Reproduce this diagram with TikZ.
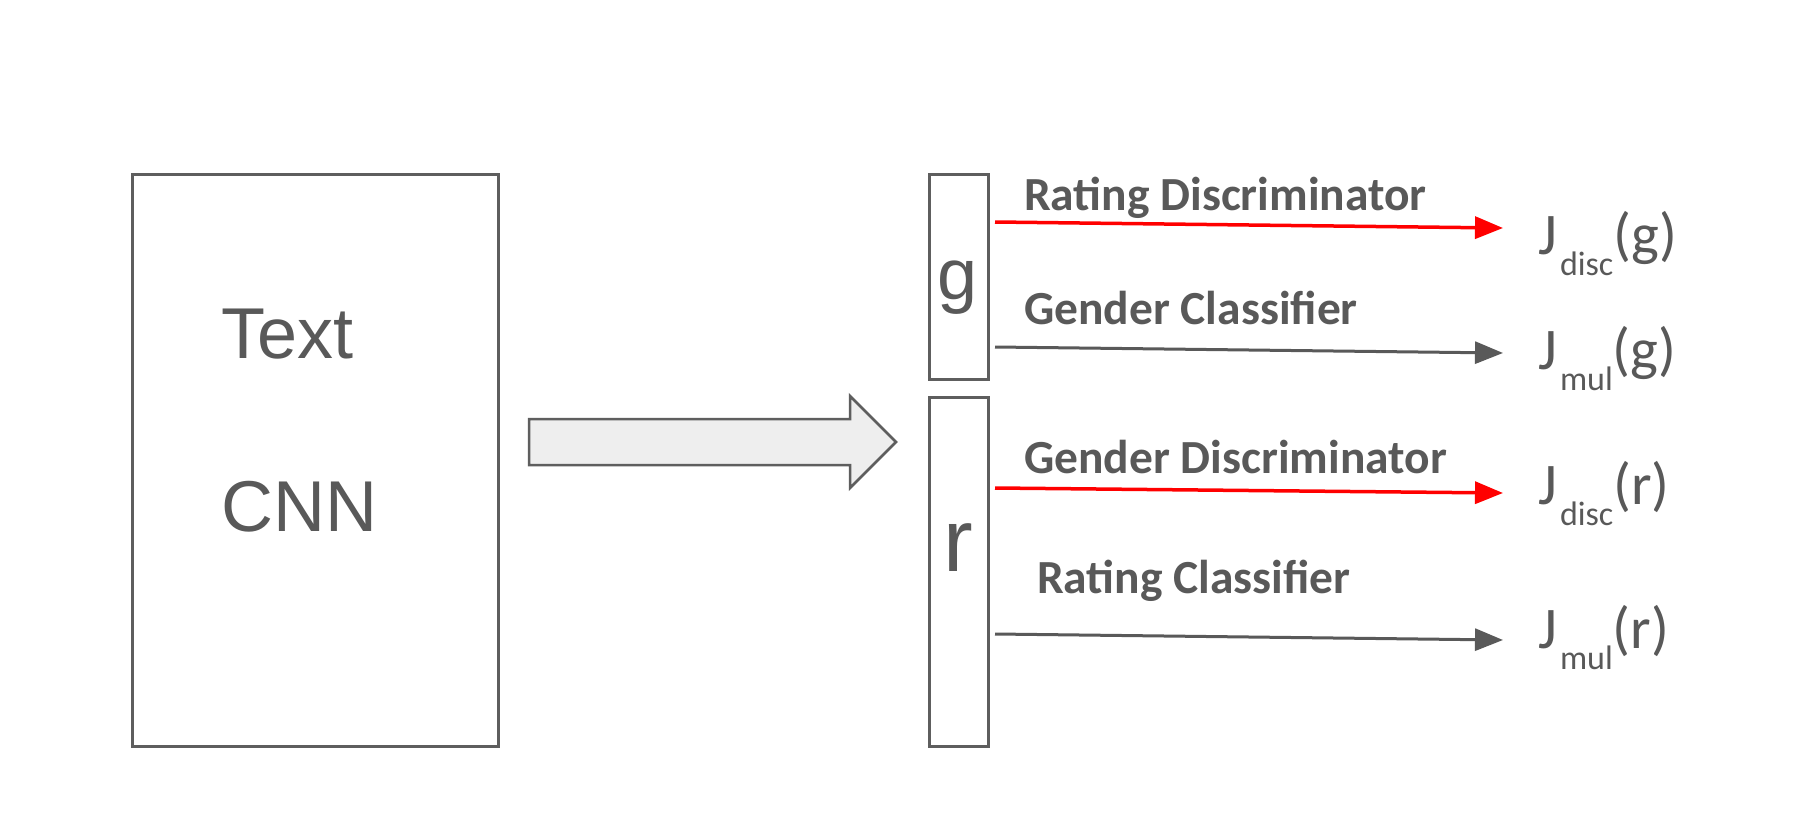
\documentclass[tikz,border=0pt]{standalone}
\usepackage{fontspec}
\setmainfont{Carlito}
\newfontfamily\arialf{Liberation Sans}
\usetikzlibrary{arrows.meta}
\definecolor{txtgray}{HTML}{595959}
\definecolor{linegray}{HTML}{5E5E5E}
\definecolor{arrfill}{HTML}{EEEEEE}
\begin{document}
\begin{tikzpicture}[x=1pt,y=-1pt,
  boxnode/.style={draw=linegray, line width=3pt, fill=none, inner sep=0pt, anchor=north west},
  bigtext/.style={text=txtgray, font=\arialf\fontsize{72}{80}\selectfont, anchor=base west, inner sep=0pt},
  lbl/.style={text=txtgray, font=\bfseries\fontsize{47.5}{52}\selectfont, anchor=base west, inner sep=0pt},
  jlbl/.style={text=txtgray, font=\fontsize{59}{64}\selectfont, anchor=base west, inner sep=0pt},
  redarr/.style={draw=red, line width=3.5pt, -{Triangle[length=28pt,width=22pt]}},
  grayarr/.style={draw=txtgray, line width=3pt, -{Triangle[length=28pt,width=22pt]}},
  bigarrow/.style={draw=linegray, line width=2.5pt, fill=arrfill, line join=miter}
]
\useasboundingbox (0,0) rectangle (1800,816);
\fill[white] (0,0) rectangle (1800,816);

% CNN box
\node[boxnode, minimum width=366pt, minimum height=572pt] (cnn) at (131,173) {};
\node[bigtext] (ttext) at (221,358) {Text};
\node[bigtext] (tcnn) at (221,531) {CNN};

% block arrow
\draw[bigarrow] (529,419) -- (850,419) -- (850,396) -- (896,442) -- (850,488) -- (850,465) -- (529,465) -- cycle;

% g and r boxes
\node[boxnode, minimum width=59pt, minimum height=205pt] (g) at (928,173) {};
\node[boxnode, minimum width=59pt, minimum height=349pt] (r) at (928,396) {};
\node[text=txtgray, font=\arialf\fontsize{72}{72}\selectfont, anchor=base, inner sep=0pt] (glbl) at (958,299) {g};
\node[text=txtgray, font=\arialf\fontsize{89}{89}\selectfont, anchor=base, inner sep=0pt] (rlbl) at (958,571) {r};

% connector endpoints
\coordinate (s1) at (995,222);
\coordinate (e1) at (1503,228);
\coordinate (s2) at (995,347);
\coordinate (e2) at (1503,353);
\coordinate (s3) at (995,488);
\coordinate (e3) at (1503,493);
\coordinate (s4) at (995,634);
\coordinate (e4) at (1503,640);

\draw[redarr] (s1) -- (e1);
\draw[grayarr] (s2) -- (e2);
\draw[redarr] (s3) -- (e3);
\draw[grayarr] (s4) -- (e4);

% labels
\node[lbl] (l1) at (1024,210) {Rating Discriminator};
\node[lbl] (l2) at (1024,324) {Gender Classifier};
\node[lbl] (l3) at (1024,473) {Gender Discriminator};
\node[lbl] (l4) at (1037,593) {Rating Classifier};

% J labels
\newcommand{\jsub}[1]{\raisebox{-21pt}{\fontsize{34}{34}\selectfont #1}}
\node[jlbl] (j1) at (1538,254) {J\hspace{3pt}\jsub{disc}(g)};
\node[jlbl] (j2) at (1538,369) {J\hspace{3pt}\jsub{mul}(g)};
\node[jlbl] (j3) at (1538,504) {J\hspace{3pt}\jsub{disc}(r)};
\node[jlbl] (j4) at (1538,648) {J\hspace{3pt}\jsub{mul}(r)};
\end{tikzpicture}
\end{document}
